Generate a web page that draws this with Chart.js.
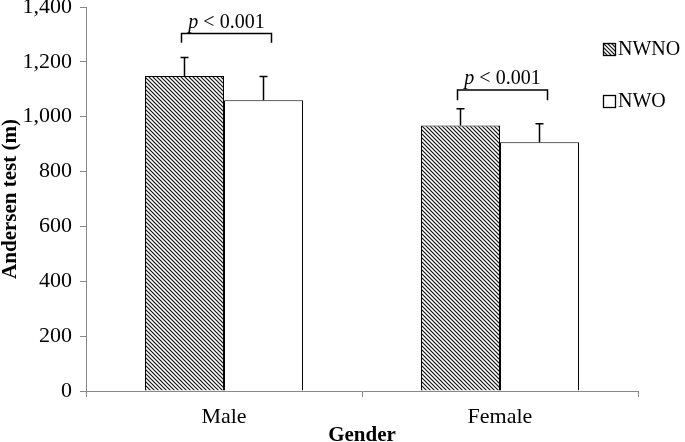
<!DOCTYPE html>
<html>
<head>
<meta charset="utf-8">
<script src="https://cdn.jsdelivr.net/npm/chart.js"></script>
<style>
	html, body { margin: 0; padding: 0; background: #fff; }
	#wrap { width: 685px; height: 442px; position: relative; }
</style>
</head>
<body>
<div id="wrap"><canvas id="chart"></canvas></div>
<script>
// data
const categories = ['Male', 'Female']
const seriesNames = ['NWNO', 'NWO']
const nwnoMeans = [1148, 968]
const nwnoSd = [68, 61]
const nwoMeans = [1060, 907]
const nwoSd = [87, 67]
const pLabels = ['p < 0.001', 'p < 0.001']
const bracketLevels = [1303, 1097]
const bracketLegs = [1270, 1060]

const serif = "'Liberation Serif', 'Times New Roman', serif"

// hatch pattern, lines going top-left to bottom-right
function makeHatch() {
	const size = 4
	const c = document.createElement('canvas')
	c.width = size
	c.height = size
	const g = c.getContext('2d')
	g.fillStyle = '#fff'
	g.fillRect(0, 0, size, size)
	g.strokeStyle = '#111'
	g.lineWidth = 1.2
	g.beginPath()
	g.moveTo(-1, -1)
	g.lineTo(size + 1, size + 1)
	g.moveTo(-1, size - 1)
	g.lineTo(1, size + 1)
	g.moveTo(size - 1, -1)
	g.lineTo(size + 1, 1)
	g.stroke()
	return g.createPattern(c, 'repeat')
}
const hatch = makeHatch()

const sds = [nwnoSd, nwoSd]

// error bars (upper only)
const errorBars = {
	id: 'errorBars',
	afterDatasetsDraw(chart) {
		const ctx = chart.ctx
		const y = chart.scales.y
		ctx.save()
		ctx.strokeStyle = '#000'
		ctx.lineWidth = 1.5
		chart.data.datasets.forEach((ds, di) => {
			const meta = chart.getDatasetMeta(di)
			meta.data.forEach((bar, i) => {
				const top = y.getPixelForValue(ds.data[i] + sds[di][i])
				ctx.beginPath()
				ctx.moveTo(bar.x, bar.y)
				ctx.lineTo(bar.x, top)
				ctx.moveTo(bar.x - 4, top)
				ctx.lineTo(bar.x + 4, top)
				ctx.stroke()
			})
		})
		ctx.restore()
	},
}

// significance brackets
const brackets = {
	id: 'brackets',
	afterDatasetsDraw(chart) {
		const ctx = chart.ctx
		const y = chart.scales.y
		const a = chart.getDatasetMeta(0).data
		const b = chart.getDatasetMeta(1).data
		ctx.save()
		ctx.strokeStyle = '#000'
		ctx.lineWidth = 1.5
		categories.forEach((c, i) => {
			const x1 = a[i].x - 3
			const x2 = b[i].x + 8
			const top = y.getPixelForValue(bracketLevels[i])
			const leg = y.getPixelForValue(bracketLegs[i])
			ctx.beginPath()
			ctx.moveTo(x1, leg)
			ctx.lineTo(x1, top)
			ctx.lineTo(x2, top)
			ctx.lineTo(x2, leg)
			ctx.stroke()

			// italic p + rest
			const rest = pLabels[i].slice(1)
			ctx.font = `italic 20px ${serif}`
			const wp = ctx.measureText('p').width
			ctx.font = `20px ${serif}`
			const wr = ctx.measureText(rest).width
			const x0 = (x1 + x2) / 2 - (wp + wr) / 2
			ctx.fillStyle = '#000'
			ctx.textBaseline = 'alphabetic'
			ctx.textAlign = 'left'
			ctx.font = `italic 20px ${serif}`
			ctx.fillText('p', x0, top - 6)
			ctx.font = `20px ${serif}`
			ctx.fillText(rest, x0 + wp, top - 6)
		})
		ctx.restore()
	},
}

// legend at the right
const sideLegend = {
	id: 'sideLegend',
	afterDraw(chart) {
		const ctx = chart.ctx
		const rows = [49, 101]
		ctx.save()
		chart.data.datasets.forEach((ds, i) => {
			const cy = rows[i]
			ctx.fillStyle = ds.backgroundColor
			ctx.fillRect(603.5, cy - 5.5, 12, 12)
			ctx.strokeStyle = '#000'
			ctx.lineWidth = 1.3
			ctx.strokeRect(603.5, cy - 5.5, 12, 12)
			ctx.fillStyle = '#000'
			ctx.font = `20px ${serif}`
			ctx.textBaseline = 'middle'
			ctx.fillText(ds.label, 618, cy + 1)
		})
		ctx.restore()
	},
}

new Chart(document.getElementById('chart'), {
	type: 'bar',
	data: {
		labels: categories,
		datasets: [
			{
				label: seriesNames[0],
				data: nwnoMeans,
				backgroundColor: hatch,
				borderColor: '#000',
				borderWidth: 1,
			},
			{
				label: seriesNames[1],
				data: nwoMeans,
				backgroundColor: '#fff',
				borderColor: '#000',
				borderWidth: 1,
			},
		],
	},
	options: {
		responsive: true,
		maintainAspectRatio: false,
		animation: false,
		layout: { padding: { top: 7, right: 47, left: 0, bottom: 0 } },
		plugins: {
			legend: { display: false },
			tooltip: { enabled: false },
		},
		datasets: {
			bar: { categoryPercentage: 0.5725, barPercentage: 1 },
		},
		scales: {
			x: {
				grid: {
					drawOnChartArea: false,
					tickLength: 6,
					color: '#888',
				},
				border: { color: '#888', width: 1 },
				ticks: {
					color: '#000',
					padding: 7,
					font: { family: serif, size: 22 },
				},
				title: {
					display: true,
					text: 'Gender',
					color: '#000',
					font: { family: serif, size: 21, weight: 'bold', lineHeight: 1 },
					padding: { top: 0, bottom: -4 },
				},
				afterFit(scale) {
					scale.height = 51
				},
			},
			y: {
				min: 0,
				max: 1400,
				grid: {
					drawOnChartArea: false,
					tickLength: 6,
					color: '#888',
				},
				border: { color: '#888', width: 1 },
				ticks: {
					stepSize: 200,
					color: '#000',
					padding: 8,
					font: { family: serif, size: 22 },
					callback: (v) => v.toLocaleString('en-US'),
				},
				title: {
					display: true,
					text: 'Andersen test (m)',
					color: '#000',
					font: { family: serif, size: 21, weight: 'bold', lineHeight: 1 },
					padding: 0,
				},
				afterFit(scale) {
					scale.width = 86
					scale.paddingTop = 0
					scale.paddingBottom = 0
				},
			},
		},
	},
	plugins: [errorBars, brackets, sideLegend],
})
</script>
</body>
</html>
